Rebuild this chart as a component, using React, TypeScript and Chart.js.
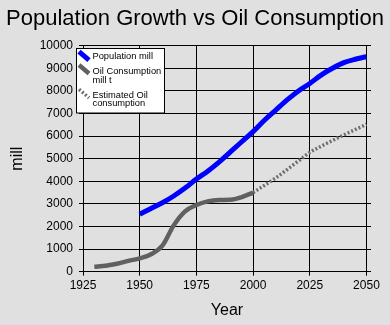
import React, { useEffect, useRef } from "react";
import { Chart, registerables } from "chart.js";

Chart.register(...registerables);

const TITLE = "Population Growth vs Oil Consumption";
const X_TITLE = "Year";
const Y_TITLE = "mill";

const popYears = [1950, 1955, 1960, 1965, 1970, 1975, 1980, 1985, 1990, 1995, 2000, 2005, 2010, 2015, 2020, 2025, 2030, 2035, 2040, 2045, 2050];
const popValues = [2540, 2800, 3050, 3350, 3700, 4100, 4450, 4850, 5300, 5750, 6200, 6700, 7150, 7600, 8000, 8330, 8700, 9000, 9250, 9400, 9510];

const oilYears = [1930, 1935, 1940, 1945, 1950, 1955, 1960, 1965, 1970, 1975, 1980, 1985, 1990, 1995, 2000];
const oilValues = [220, 265, 350, 480, 590, 770, 1150, 2050, 2670, 2950, 3110, 3170, 3180, 3300, 3500];

const estYears = [2000, 2010, 2020, 2025, 2030, 2040, 2050];
const estValues = [3500, 4150, 4900, 5280, 5550, 6050, 6520];

const seriesLabels = [["Population mill"], ["Oil Consumption", "mill t"], ["Estimated Oil", "consumption"]];

const BG = "#e0e0e0";
const FONT = "'Liberation Sans', Arial, sans-serif";

const pts = (xs: number[], ys: number[]) => xs.map((x, i) => ({ x, y: ys[i] }));

const legendPlugin = {
  id: "boxLegend",
  afterDraw(chart: any) {
    const ctx = chart.ctx;
    const ds = chart.data.datasets;
    ctx.save();
    const bx = 76.5, by = 48.5, bw = 88, bh = 64.5;
    ctx.fillStyle = "#ffffff";
    ctx.fillRect(bx, by, bw, bh);
    ctx.strokeStyle = "#000";
    ctx.lineWidth = 1;
    ctx.strokeRect(bx, by, bw, bh);
    const symTops = [51.7, 65, 89.3];
    const baselines = [[59.3], [74, 83.3], [97.7, 106.3]];
    ds.forEach((d: any, i: number) => {
      ctx.beginPath();
      ctx.strokeStyle = d.borderColor;
      ctx.lineWidth = d.borderWidth;
      ctx.setLineDash(d.borderDash || []);
      ctx.moveTo(79, symTops[i]);
      ctx.lineTo(89, symTops[i] + 8.5);
      ctx.stroke();
      ctx.setLineDash([]);
      ctx.fillStyle = "#000";
      ctx.font = `9.3px ${FONT}`;
      ctx.textBaseline = "alphabetic";
      ctx.textAlign = "left";
      const lines = seriesLabels[i];
      lines.forEach((t, j) => ctx.fillText(t, 92.5, baselines[i][j]));
    });
    ctx.restore();
  },
};

const bgPlugin = {
  id: "bg",
  beforeDraw(chart: any) {
    const ctx = chart.ctx;
    ctx.save();
    ctx.fillStyle = BG;
    ctx.fillRect(0, 0, chart.width, chart.height);
    ctx.restore();
  },
};

export default function App() {
  const ref = useRef<HTMLCanvasElement>(null);
  useEffect(() => {
    document.body.style.margin = "0";
    document.body.style.background = BG;
    const chart = new Chart(ref.current!, {
      type: "line",
      data: {
        datasets: [
          {
            label: seriesLabels[0].join(" "),
            data: pts(popYears, popValues),
            borderColor: "#0000ff",
            borderWidth: 5,
            pointRadius: 0,
            cubicInterpolationMode: "monotone",
            fill: false,
          },
          {
            label: seriesLabels[1].join(" "),
            data: pts(oilYears, oilValues),
            borderColor: "#606060",
            borderWidth: 4.5,
            pointRadius: 0,
            cubicInterpolationMode: "monotone",
            fill: false,
          },
          {
            label: seriesLabels[2].join(" "),
            data: pts(estYears, estValues),
            borderColor: "#6e6e6e",
            borderWidth: 3.5,
            borderDash: [2, 2],
            pointRadius: 0,
            cubicInterpolationMode: "monotone",
            fill: false,
          },
        ],
      },
      options: {
        responsive: false,
        animation: false,
        layout: { padding: 0 },
        plugins: {
          legend: { display: false },
          tooltip: { enabled: false },
          title: {
            display: true,
            text: TITLE,
            color: "#000",
            font: { family: FONT, size: 22, weight: "normal" },
            padding: { top: 6, bottom: 13.3 },
          },
        },
        scales: {
          x: {
            type: "linear",
            min: 1925,
            max: 2052,
            border: { display: false },
            grid: { color: "#000", lineWidth: 1, tickLength: 4, drawTicks: true, tickColor: "#000" },
            ticks: {
              stepSize: 25,
              includeBounds: false,
              color: "#000",
              padding: 3,
              maxRotation: 0,
              font: { family: FONT, size: 12 },
              callback: (v: any) => String(v),
            },
            title: {
              display: true,
              text: X_TITLE,
              color: "#000",
              font: { family: FONT, size: 16 },
              padding: { top: 0, bottom: 5 },
            },
            afterFit: (s: any) => {
              s.height = 53.3;
            },
          },
          y: {
            min: 0,
            max: 10000,
            border: { display: false },
            grid: { color: "#000", lineWidth: 1, tickLength: 4, drawTicks: true, tickColor: "#000" },
            ticks: {
              stepSize: 1000,
              color: "#000",
              padding: 6,
              font: { family: FONT, size: 12 },
              callback: (v: any) => String(v),
            },
            title: {
              display: true,
              text: Y_TITLE,
              color: "#000",
              font: { family: FONT, size: 16 },
              padding: { top: 8, bottom: 0 },
            },
            afterFit: (s: any) => {
              s.width = 83;
            },
          },
          yRight: {
            position: "right",
            min: 0,
            max: 10000,
            border: { display: false },
            grid: { display: false, drawTicks: false },
            ticks: { display: false },
            afterFit: (s: any) => {
              s.width = 19;
            },
          },
        },
      },
      plugins: [bgPlugin, legendPlugin],
    } as any);
    return () => chart.destroy();
  }, []);
  return (
    <div style={{ position: "absolute", left: 0, top: 0, width: 390, height: 325, background: BG }}>
      <canvas ref={ref} width={390} height={325} style={{ display: "block" }} />
    </div>
  );
}
